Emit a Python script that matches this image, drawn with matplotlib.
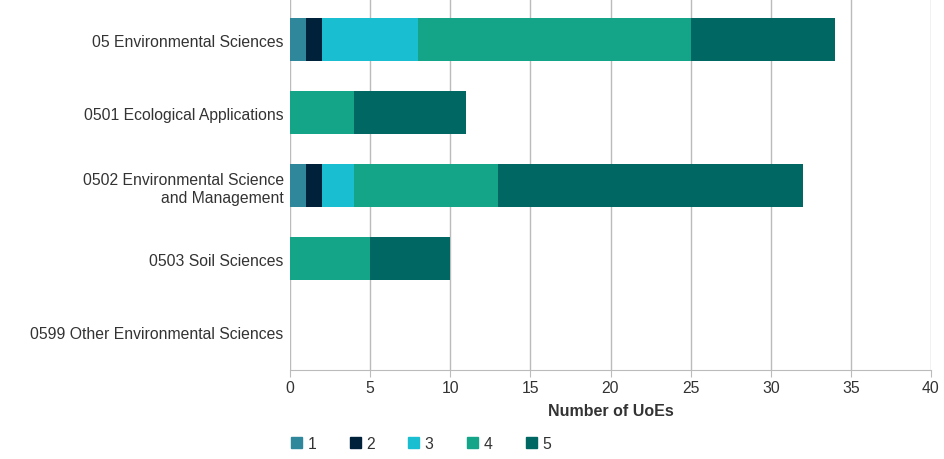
import numpy as np
import matplotlib
matplotlib.use('Agg')
import matplotlib.pyplot as plt
from matplotlib.patches import Patch

plt.rcParams['font.family'] = ['Liberation Sans', 'DejaVu Sans']

# Data
categories = ['05 Environmental Sciences',
              '0501 Ecological Applications',
              '0502 Environmental Science\nand Management',
              '0503 Soil Sciences',
              '0599 Other Environmental Sciences']
series_names = ['1', '2', '3', '4', '5']
s1 = [1, 0, 1, 0, 0]
s2 = [1, 0, 1, 0, 0]
s3 = [6, 0, 2, 0, 0]
s4 = [17, 4, 9, 5, 0]
s5 = [9, 7, 19, 5, 0]
series = [s1, s2, s3, s4, s5]
colors = ['#2e879b', '#00213a', '#1abed1', '#14a589', '#006763']
xticks = [0, 5, 10, 15, 20, 25, 30, 35, 40]

fig = plt.figure(figsize=(9.45, 4.6), dpi=100)
ax = fig.add_axes([290 / 945, (460 - 371) / 460, (931 - 290) / 945, 371 / 460])

y = np.arange(len(categories))
left = np.zeros(len(categories))
for vals, col in zip(series, colors):
    vals = np.array(vals, dtype=float)
    ax.barh(y, vals, left=left, height=0.59, color=col, zorder=3)
    left += vals

# top of the axes sits a bit above the first band
ax.set_ylim(4.527, -0.555)
ax.set_xlim(0, 40)
ax.set_xticks(xticks)
ax.set_yticks(y)
ax.set_yticklabels(categories, fontsize=11.3, color='#333333', linespacing=1.25)
ax.tick_params(axis='y', length=0, pad=4.5)
ax.tick_params(axis='x', length=5, color='#bbbbbb', labelsize=11.3, labelcolor='#333333', pad=2)

ax.grid(axis='x', color='#bbbbbb', linewidth=1, zorder=0)
for side in ['top', 'right', 'left']:
    ax.spines[side].set_visible(False)
ax.spines['bottom'].set_color('#bbbbbb')

ax.set_xlabel('Number of UoEs', fontsize=11.5, fontweight='bold', color='#333333', labelpad=6)

handles = [Patch(color=c, label=n) for c, n in zip(colors, series_names)]
fig.legend(handles=handles, loc='lower left', bbox_to_anchor=(291 / 945, 8 / 460), ncol=5,
           frameon=False, fontsize=11.3, handlelength=0.7, handleheight=0.7,
           handletextpad=0.35, columnspacing=2.13, labelcolor='#333333',
           borderpad=0, borderaxespad=0)

plt.savefig('out.png', dpi=100)
